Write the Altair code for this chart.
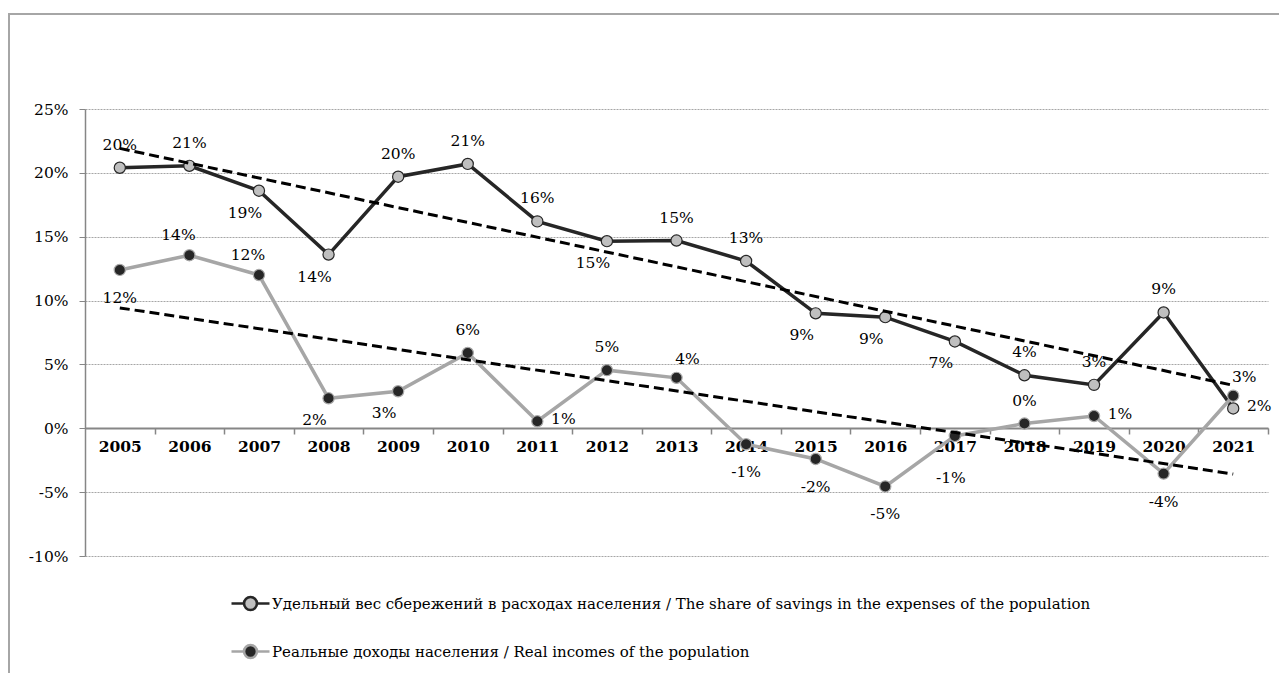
import altair as alt
import pandas as pd

years = list(range(2005, 2022))
savings = [20.4, 20.55, 18.6, 13.6, 19.7, 20.7, 16.2, 14.65, 14.7, 13.1, 9.0, 8.7, 6.8, 4.15, 3.4, 9.07, 1.55]
incomes = [12.4, 13.55, 12.0, 2.35, 2.9, 5.9, 0.55, 4.55, 3.95, -1.25, -2.4, -4.55, -0.6, 0.37, 0.96, -3.55, 2.55]
S1 = "Удельный вес сбережений в расходах населения / The share of savings in the expenses of the population"
S2 = "Реальные доходы населения / Real incomes of the population"
y_ticks = [-10, -5, 0, 5, 10, 15, 20, 25]

# label placement per point (names only)
savings_pos = ["above", "above", "belowleft", "belowleft", "above", "above", "above", "belowleft",
               "above", "above", "belowleft", "belowleft", "belowleft", "above", "above", "above", "right"]
incomes_pos = ["below", "aboveleft", "aboveleft", "belowleft", "belowleft", "above", "right", "above",
               "aboveright", "below", "below", "below", "farbelow", "above", "right", "below", "aboveright"]
offsets = {
    "above": (0, -23), "below": (0, 28), "belowleft": (-14, 22), "aboveleft": (-11, -20),
    "aboveright": (11, -19), "right": (26, -2), "farbelow": (-4, 42),
}

rows = []
for yr, v, p in zip(years, savings, savings_pos):
    rows.append({"series": S1, "year": yr, "value": v, "pos": p})
for yr, v, p in zip(years, incomes, incomes_pos):
    rows.append({"series": S2, "year": yr, "value": v, "pos": p})
df = pd.DataFrame(rows)

W, H = 1183, 447
half = W / 17 / 2
FONT = "DejaVu Serif"

x = alt.X("year:Q",
          scale=alt.Scale(domain=[2004.5, 2021.5], nice=False, zero=False),
          axis=alt.Axis(values=years, format="d", title=None, grid=False,
                        tickOffset=half, labelOffset=-half, offset=-128,
                        domainColor="#868686", domainWidth=2, tickColor="#868686",
                        tickSize=6, tickWidth=1.5, labelFont=FONT, labelFontSize=15.5,
                        labelFontWeight="bold", labelColor="#000000", labelPadding=5,
                        labelFlush=False, labelOverlap=False))
y = alt.Y("value:Q",
          scale=alt.Scale(domain=[-10, 25], nice=False),
          axis=alt.Axis(values=y_ticks, labelExpr="datum.value + '%'", title=None, grid=True,
                        gridColor="#a6a6a6", gridDash=[2, 1], gridWidth=1,
                        domainColor="#868686", domainWidth=1.5, tickColor="#868686",
                        tickSize=6, labelFont=FONT, labelFontSize=15.5, labelColor="#000000",
                        labelPadding=11))

stroke_scale = alt.Scale(domain=[S1, S2], range=["#262626", "#a6a6a6"])
fill_scale = alt.Scale(domain=[S1, S2], range=["#bfbfbf", "#262626"])

sym = "M-1,0L-0.36,0M0.36,0L1,0M0.34,0A0.34,0.34,0,1,1,-0.34,0A0.34,0.34,0,1,1,0.34,0Z"
leg = alt.Legend(title=None, orient="none", legendX=145, legendY=474, direction="vertical",
                 symbolType=sym, symbolSize=1444, symbolStrokeWidth=2.6, labelFont=FONT,
                 labelFontSize=15, labelLimit=1500, labelOffset=1, rowPadding=15, padding=0,
                 labelColor="#000000", symbolOpacity=1)

base = alt.Chart(df)

frame = base.mark_rect(fill=None, stroke="#a6a6a6", strokeWidth=1.5).encode(
    x=alt.value(-76), x2=alt.value(1300), y=alt.value(-95), y2=alt.value(700))

lines = base.mark_line(strokeWidth=3.5).encode(
    x=x, y=y, stroke=alt.Stroke("series:N", scale=stroke_scale, legend=leg))

points = base.mark_point(shape="circle", filled=True, size=125, strokeWidth=1.2, opacity=1).encode(
    x=x, y=y,
    fill=alt.Fill("series:N", scale=fill_scale, legend=leg),
    stroke=alt.Stroke("series:N", scale=stroke_scale, legend=leg))

trend = base.transform_regression("year", "value", groupby=["series"]).mark_line(
    color="#000000", strokeDash=[10, 5], strokeWidth=3).encode(
    x=x, y=y, detail="series:N")

texts = []
for key, (dx, dy) in offsets.items():
    texts.append(
        base.transform_filter(alt.datum.pos == key)
        .transform_calculate(lbl="round(datum.value) + '%'")
        .mark_text(dx=dx, dy=dy, font=FONT, fontSize=15.5, color="#000000",
                   align="center", baseline="middle")
        .encode(x=x, y=y, text="lbl:N")
    )

chart = alt.layer(frame, lines, points, trend, *texts).properties(
    width=W, height=H,
    autosize=alt.AutoSizeParams(type="none"),
    padding={"left": 85, "top": 109, "right": 11, "bottom": 117},
).configure_view(stroke=None).configure_legend(labelFont=FONT, labelFontSize=15)

chart.save("out.html", embed_options={"renderer": "svg", "actions": False})
